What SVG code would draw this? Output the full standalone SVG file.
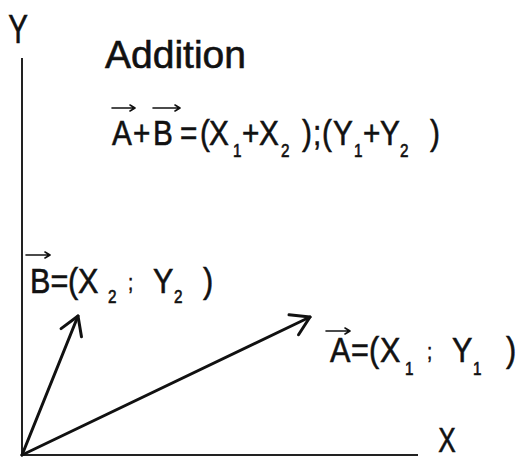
<svg xmlns="http://www.w3.org/2000/svg" width="519" height="461" viewBox="0 0 519 461">
<style>
text { font-family: "Liberation Sans", Arial, sans-serif; fill: #111; stroke: #111; stroke-width: 0.6; }
.big { font-size: 35px; }
.sub { font-size: 18px; }
.lbl { font-size: 36px; }
.ax { stroke: #222; stroke-width: 2; fill: none; }
.vec { stroke: #111; stroke-width: 3; fill: none; stroke-linecap: round; }
.ovr { stroke: #111; stroke-width: 1.6; fill: none; stroke-linecap: round; stroke-linejoin: round; }
</style>
<defs>
<marker id="head" viewBox="-21 -13 24 26" refX="0" refY="0" markerWidth="24" markerHeight="26" markerUnits="userSpaceOnUse" orient="auto">
<path d="M-18,-11 L0,0 L-18,11" fill="none" stroke="#111" stroke-width="3" stroke-linecap="round" stroke-linejoin="round"/>
</marker>
</defs>
<g id="axes">
<line class="ax" x1="22" y1="58" x2="22" y2="455"/>
<line class="ax" x1="22" y1="455" x2="418" y2="455"/>
</g>
<g id="label-Y"><text transform="translate(18,43) scale(0.72,1)" text-anchor="middle" font-size="41">Y</text></g>
<g id="label-X"><text transform="translate(447,452) scale(0.75,1)" text-anchor="middle" font-size="35">X</text></g>
<g id="title"><text x="105" y="68" font-size="39" stroke-width="0.4">Addition</text></g>
<g id="sum-formula">
<path class="ovr" d="M112,108 H135 M130,105 L135,108 L130,111 M153,108 H180 M175,105 L180,108 L175,111"/>
<text class="big" transform="scale(0.85,1)" y="145"><tspan x="131.8">A</tspan><tspan x="156.5">+</tspan><tspan x="180">B</tspan><tspan x="211.8">=</tspan><tspan x="235.3">(</tspan><tspan x="245.9">X</tspan><tspan class="sub" x="274.1" y="157">1</tspan><tspan x="284.7" y="145">+</tspan><tspan x="304.7">X</tspan><tspan class="sub" x="330.6" y="157">2</tspan><tspan x="355.3" y="145">)</tspan><tspan x="368.2">;</tspan><tspan x="378.8">(</tspan><tspan x="391.8">Y</tspan><tspan class="sub" x="416.5" y="157">1</tspan><tspan x="427" y="145">+</tspan><tspan x="447.1">Y</tspan><tspan class="sub" x="470.6" y="157">2</tspan><tspan x="505.9" y="145">)</tspan></text>
</g>
<g id="label-B">
<path class="ovr" d="M26,255 H50 M45,252 L50,255 L45,258"/>
<text class="lbl" transform="scale(0.85,1)" y="293"><tspan x="35.3">B</tspan><tspan x="59.4">=</tspan><tspan x="80">(</tspan><tspan x="91.8">X</tspan><tspan class="sub" x="127.1" y="303">2</tspan><tspan x="150.6" y="290" font-size="22">;</tspan><tspan x="180" y="293">Y</tspan><tspan class="sub" x="204.7" y="303">2</tspan><tspan x="238.8" y="293">)</tspan></text>
</g>
<g id="label-A">
<path class="ovr" d="M326,331 H350 M345,328 L350,331 L345,334"/>
<text class="lbl" transform="scale(0.85,1)" y="362"><tspan x="388.2">A</tspan><tspan x="412.9">=</tspan><tspan x="434.1">(</tspan><tspan x="447.1">X</tspan><tspan class="sub" x="476.5" y="375">1</tspan><tspan x="502.4" y="359" font-size="22">;</tspan><tspan x="531.8" y="362">Y</tspan><tspan class="sub" x="556.5" y="375">1</tspan><tspan x="595.3" y="362">)</tspan></text>
</g>
<g id="connectors">
<line class="vec" x1="22" y1="455" x2="78" y2="316" marker-end="url(#head)"/>
<line class="vec" x1="22" y1="455" x2="310" y2="317" marker-end="url(#head)"/>
</g>
</svg>
